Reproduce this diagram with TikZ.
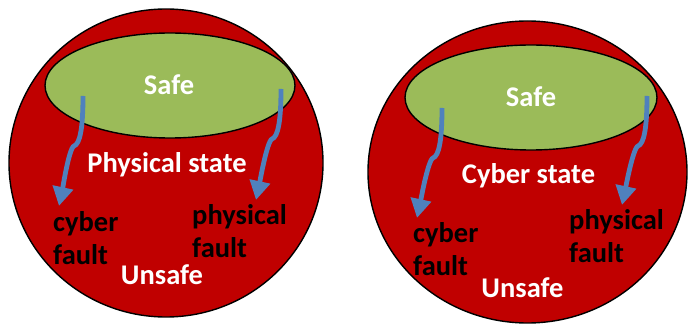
\documentclass[tikz,border=0pt]{standalone}
\usepackage{fontspec}
\setmainfont{Carlito}
\usetikzlibrary{arrows.meta,calc,shapes.geometric}

\definecolor{statered}{HTML}{C00000}
\definecolor{safegreen}{HTML}{9BBB59}
\definecolor{faultblue}{HTML}{4F81BD}

\tikzset{
  statespace/.style={ellipse, draw=black, line width=1.4pt, fill=statered, inner sep=0pt},
  saferegion/.style={ellipse, draw=black, line width=1.4pt, fill=safegreen, inner sep=0pt},
  whitelabel/.style={text=white, font=\fontsize{28.5}{33}\selectfont\bfseries, inner sep=0pt, anchor=base},
  % multi-line labels: the base anchor sits on the last line
  faultlabel/.style={text=black, font=\fontsize{28.5}{33}\selectfont\bfseries, inner sep=0pt, align=left, anchor=base west},
  faultarrow/.style={draw=faultblue, line width=4.8pt, -{Triangle[width=20pt,length=19pt]}},
  wiggle/.style={to path={.. controls +(0,32) and +(6,-2) .. ($(\tikztostart)+(-9,50)$) .. controls +(-5,1.7) and +(3,-14) .. (\tikztotarget)}}
}

\begin{document}
\begin{tikzpicture}[x=1pt,y=-1pt]
\useasboundingbox (0,0) rectangle (689,331);

% ---- physical state space ----
\node[statespace, minimum width=314pt, minimum height=308pt] (phys) at (166,163) {};
\node[saferegion, minimum width=250pt, minimum height=105pt] (physsafe) at (170,85.5) {};
\node[whitelabel] (physsafelbl) at (169,95) {Safe};
\node[whitelabel] (physname) at (167,173) {Physical state};
\node[whitelabel] (physunsafe) at (162,285) {Unsafe};
\node[faultlabel] (physcyber) at (53,265) {cyber\\fault};
\node[faultlabel] (physphys) at (192,258) {physical\\fault};

\coordinate (p1s) at (83,96);
\coordinate (p1e) at (59,206);
\coordinate (p2s) at (281,89);
\coordinate (p2e) at (256,200);
\draw[faultarrow] (p1s) to[wiggle] (p1e);
\draw[faultarrow] (p2s) to[wiggle] (p2e);

% ---- cyber state space ----
\node[statespace, minimum width=319pt, minimum height=302pt] (cyb) at (527.5,172) {};
\node[saferegion, minimum width=252pt, minimum height=105pt] (cybsafe) at (531,97.5) {};
\node[whitelabel] (cybsafelbl) at (531,107) {Safe};
\node[whitelabel] (cybname) at (528.5,184) {Cyber state};
\node[whitelabel] (cybunsafe) at (522.5,298) {Unsafe};
\node[faultlabel] (cybcyber) at (413,276) {cyber\\fault};
\node[faultlabel] (cybphys) at (569,263) {physical\\fault};

\coordinate (c1s) at (442,108);
\coordinate (c1e) at (417,218);
\coordinate (c2s) at (647,96);
\coordinate (c2e) at (622,205);
\draw[faultarrow] (c1s) to[wiggle] (c1e);
\draw[faultarrow] (c2s) to[wiggle] (c2e);
\end{tikzpicture}
\end{document}
